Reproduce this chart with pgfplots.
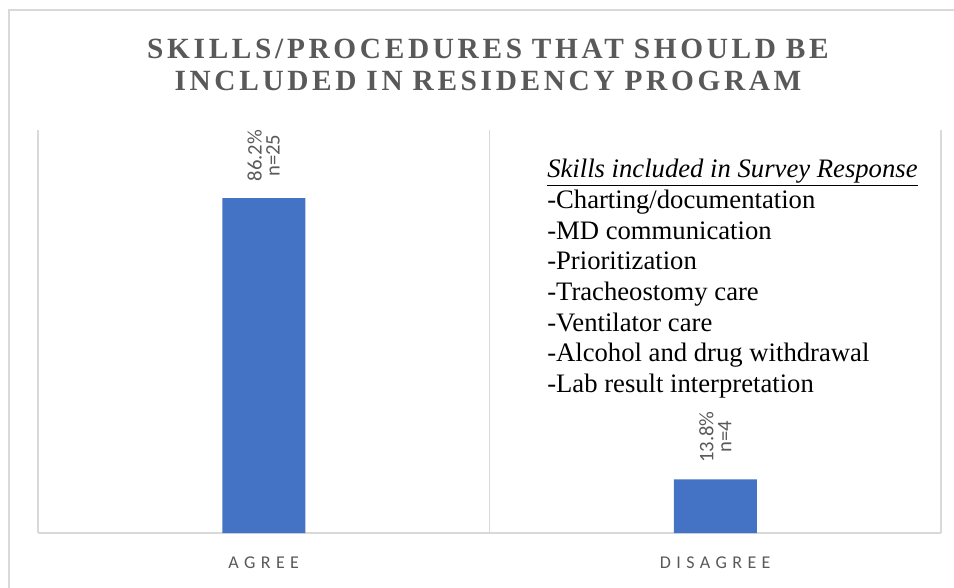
\documentclass[border=0pt]{standalone}
\usepackage{fontspec}
\usepackage{pgfplots}
\pgfplotsset{compat=1.18}
\setmainfont{Liberation Serif}
\newfontfamily\titlefont[LetterSpace=12.5,WordSpace=0.9]{Liberation Serif}
\newfontfamily\lblfont{Carlito}
\newfontfamily\tickfont[LetterSpace=30]{Carlito}
\definecolor{barblue}{HTML}{4472C4}
\definecolor{gridgrey}{HTML}{D9D9D9}
\definecolor{txtgrey}{HTML}{595959}
\newcommand\labA{86.2\%\\n=25}
\newcommand\labB{13.8\%\\n=4}

\begin{document}
\begin{tikzpicture}[x=0.75pt,y=0.75pt]
\path[use as bounding box] (0,0) rectangle (954,587);
\draw[gridgrey, line width=1.2pt] (9,-5) -- (9,577) -- (960,577);
\node[font=\titlefont\bfseries\fontsize{22}{24}\selectfont, text=txtgrey, align=center]
  at (488,522) {SKILLS/PROCEDURES THAT SHOULD BE\\INCLUDED IN RESIDENCY PROGRAM};
\begin{axis}[
  at={(28.5pt,40.5pt)}, anchor=south west,
  scale only axis, width=677.25pt, height=302.25pt,
  xmin=-0.5, xmax=1.5, ymin=0, ymax=103.7,
  axis line style={draw=none},
  xtick={0,1}, xticklabels={AGREE,DISAGREE},
  minor xtick={-0.5,0.5,1.5}, xminorgrids,
  ytick={0}, yticklabels={}, ymajorgrids,
  grid style={gridgrey, line width=1pt},
  major tick length=0, minor tick length=0,
  ticklabel style={font=\tickfont\fontsize{13.5}{15}\selectfont, text=txtgrey},
  xticklabel style={yshift=-14pt},
  ybar, bar width=62.25pt,
  point meta=explicit symbolic,
  nodes near coords,
  nodes near coords style={rotate=90, anchor=west, align=center,
    font=\lblfont\fontsize{15.5}{13.5}\selectfont, text=txtgrey, xshift=9pt},
]
\addplot[fill=barblue, draw=none] coordinates {(0,86.2) [\labA] (1,13.8) [\labB]};
\end{axis}
\node[anchor=north west, align=left, font=\fontsize{20}{23}\selectfont, inner sep=0pt]
  at (547,428) {\underline{\textit{Skills included in Survey Response}}\\
  -Charting/documentation\\
  -MD communication\\
  -Prioritization\\
  -Tracheostomy care\\
  -Ventilator care\\
  -Alcohol and drug withdrawal\\
  -Lab result interpretation};
\end{tikzpicture}
\end{document}
